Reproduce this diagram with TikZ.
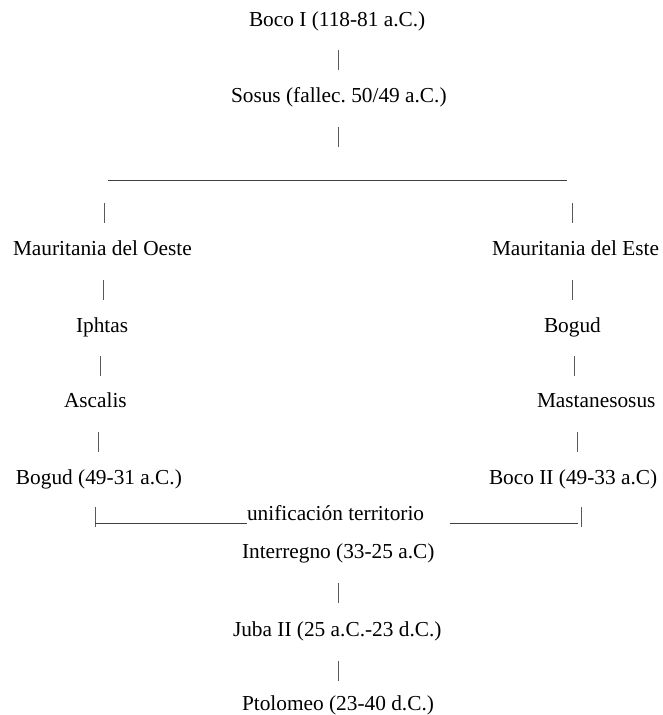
\documentclass[tikz,border=0pt]{standalone}
\usepackage{fontspec}
\setmainfont{Liberation Serif}
\frenchspacing
\begin{document}
\begin{tikzpicture}[x=1pt,y=-1pt,
  lbl/.style={anchor=base west,inner sep=0pt,outer sep=0pt,font=\fontsize{21.33}{25}\selectfont},
  bar/.style={line width=1pt,draw=black!65},
  rule/.style={line width=1pt,draw=black!75}]
\useasboundingbox[fill=white] (0,0) rectangle (662,715);
% trunk
\node[lbl] (boco1) at (249,26) {Boco I (118-81 a.C.)};
\node[lbl] (sosus) at (231,102) {Sosus (fallec. 50/49 a.C.)};
% left branch
\node[lbl] (mauo) at (13,255) {Mauritania del Oeste};
\node[lbl] (iphtas) at (76,332) {Iphtas};
\node[lbl] (ascalis) at (64,407) {Ascalis};
\node[lbl] (bogudl) at (16,484) {Bogud (49-31 a.C.)};
% right branch
\node[lbl] (maue) at (492,255) {Mauritania del Este};
\node[lbl] (bogudr) at (544,332) {Bogud};
\node[lbl] (mast) at (537,407) {Mastanesosus};
\node[lbl] (boco2) at (489,484) {Boco II (49-33 a.C)};
% union
\node[lbl] (unif) at (247,520) {unificación territorio};
\node[lbl] (inter) at (242,558) {Interregno (33-25 a.C)};
\node[lbl] (juba) at (233,636) {Juba II (25 a.C.-23 d.C.)};
\node[lbl] (ptol) at (242,710) {Ptolomeo (23-40 d.C.)};
% coordinates for connector ends
\coordinate (t1a) at (338,50);  \coordinate (t1b) at (338,70);
\coordinate (t2a) at (338,127); \coordinate (t2b) at (338,147);
\coordinate (hl) at (108,180);  \coordinate (hr) at (567,180);
\coordinate (l0a) at (104,203); \coordinate (l0b) at (104,223);
\coordinate (r0a) at (572,203); \coordinate (r0b) at (572,223);
\coordinate (l1a) at (103,280); \coordinate (l1b) at (103,300);
\coordinate (r1a) at (572,280); \coordinate (r1b) at (572,300);
\coordinate (l2a) at (100,356); \coordinate (l2b) at (100,376);
\coordinate (r2a) at (574,356); \coordinate (r2b) at (574,376);
\coordinate (l3a) at (98,432);  \coordinate (l3b) at (98,452);
\coordinate (r3a) at (577,432); \coordinate (r3b) at (577,452);
\coordinate (l4a) at (95,507);  \coordinate (l4b) at (95,527);
\coordinate (r4a) at (581,507); \coordinate (r4b) at (581,527);
\coordinate (ul1) at (95,523);  \coordinate (ul2) at (247,523);
\coordinate (ur1) at (450,523); \coordinate (ur2) at (578,523);
\coordinate (b1a) at (338,583); \coordinate (b1b) at (338,603);
\coordinate (b2a) at (338,661); \coordinate (b2b) at (338,681);
% connectors
\draw[bar] (t1a) -- (t1b);
\draw[bar] (t2a) -- (t2b);
\draw[rule] (hl) -- (hr);
\draw[bar] (l0a) -- (l0b);
\draw[bar] (r0a) -- (r0b);
\draw[bar] (l1a) -- (l1b);
\draw[bar] (r1a) -- (r1b);
\draw[bar] (l2a) -- (l2b);
\draw[bar] (r2a) -- (r2b);
\draw[bar] (l3a) -- (l3b);
\draw[bar] (r3a) -- (r3b);
\draw[bar] (l4a) -- (l4b);
\draw[bar] (r4a) -- (r4b);
\draw[rule] (ul1) -- (ul2);
\draw[rule] (ur1) -- (ur2);
\draw[bar] (b1a) -- (b1b);
\draw[bar] (b2a) -- (b2b);
\end{tikzpicture}
\end{document}
